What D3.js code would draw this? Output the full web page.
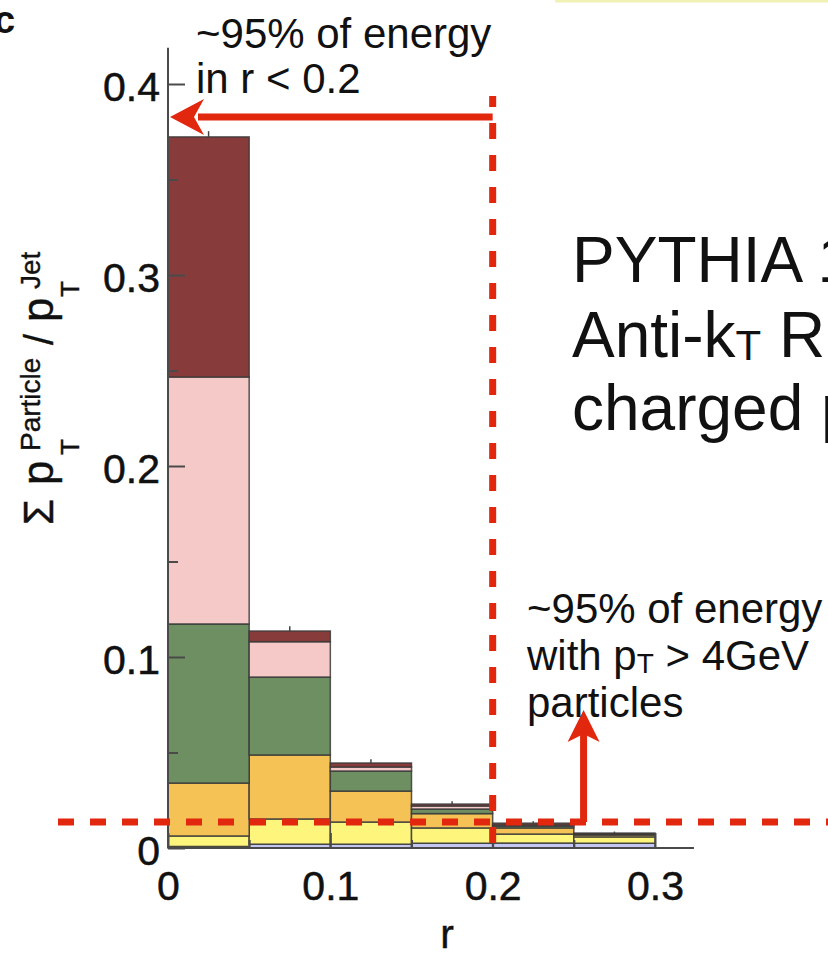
<!DOCTYPE html>
<html>
<head>
<meta charset="utf-8">
<script src="https://cdn.jsdelivr.net/npm/d3@7"></script>
<style>
  body { margin: 0; background: #fff; }
  svg { display: block; font-family: "Liberation Sans", Arial, sans-serif; }
</style>
</head>
<body>
<div id="chart"></div>
<script>
// bin edges in r and the stacked contributions (bottom to top)
const binEdges = [0, 0.05, 0.1, 0.15, 0.2, 0.25, 0.3];
const seriesKeys = ["blue", "yellow", "orange", "green", "pink", "red"];
const blueVals = [0.0008, 0.002, 0.002, 0.0025, 0.0026, 0.0025];
const yellowVals = [0.0055, 0.0132, 0.0116, 0.008, 0.0047, 0.0033];
const orangeVals = [0.0277, 0.0335, 0.0162, 0.0075, 0.0032, 0.001];
const greenVals = [0.0833, 0.0408, 0.0105, 0.0024, 0.001, 0.0005];
const pinkVals = [0.1293, 0.0185, 0.0021, 0.0016, 0.0005, 0.0002];
const redVals = [0.1257, 0.0056, 0.0021, 0.001, 0.001, 0.0003];
const errVals = [0.003, 0.0025, 0.002, 0.0015, 0.001, 0.0008];
const yTicks = [0, 0.1, 0.2, 0.3, 0.4];
const yMinor = [0.05, 0.15, 0.25, 0.35];
const xTicks = [0, 0.1, 0.2, 0.3];
const xMinor = [0.05, 0.15, 0.25];
const yTickLabels = ["0", "0.1", "0.2", "0.3", "0.4"];
const xTickLabels = ["0", "0.1", "0.2", "0.3"];

const colors = {
  blue: "#c5c7f3",
  yellow: "#fdf57c",
  orange: "#f5c256",
  green: "#6d8f61",
  pink: "#f6c9c9",
  red: "#873b3a"
};
const annRed = "#e2270f";

const W = 828, H = 954;
const svg = d3.select("#chart").append("svg")
  .attr("width", W).attr("height", H);

const x = d3.scaleLinear().domain([0, 0.3]).range([168, 655]);
const y = d3.scaleLinear().domain([0, 0.4]).range([848, 84]);

// faint band at the top (from the slide behind)
svg.append("rect").attr("x", 555).attr("y", 0).attr("width", W - 555).attr("height", 2.5)
  .attr("fill", "#eff2b4");

// rows for the stack
const rows = binEdges.slice(0, -1).map((lo, i) => ({
  lo: lo, hi: binEdges[i + 1],
  blue: blueVals[i], yellow: yellowVals[i], orange: orangeVals[i],
  green: greenVals[i], pink: pinkVals[i], red: redVals[i],
  err: errVals[i]
}));
const stacked = d3.stack().keys(seriesKeys)(rows);

const bars = svg.append("g");
stacked.forEach(layer => {
  bars.append("g")
    .selectAll("rect")
    .data(layer)
    .join("rect")
    .attr("x", d => x(d.data.lo))
    .attr("y", d => y(d[1]))
    .attr("width", d => x(d.data.hi) - x(d.data.lo))
    .attr("height", d => y(d[0]) - y(d[1]))
    .attr("fill", colors[layer.key])
    .attr("stroke", "#3a3a3a")
    .attr("stroke-opacity", 0.85)
    .attr("stroke-width", 1.5);
});

// small error bars on top of each stack
const topLayer = stacked[stacked.length - 1];
svg.append("g").selectAll("line")
  .data(topLayer)
  .join("line")
  .attr("x1", d => x((d.data.lo + d.data.hi) / 2))
  .attr("x2", d => x((d.data.lo + d.data.hi) / 2))
  .attr("y1", d => y(d[1]))
  .attr("y2", d => y(d[1] + d.data.err))
  .attr("stroke", "#444")
  .attr("stroke-width", 1.5);

// axes
const axisColor = "#4a4a4a";
const xAxis = svg.append("g").attr("transform", `translate(0,${y(0)})`)
  .call(d3.axisBottom(x).tickValues(xTicks).tickFormat((d, i) => xTickLabels[i])
    .tickSize(-15).tickSizeOuter(0).tickPadding(23));
svg.append("g").attr("transform", `translate(0,${y(0)})`)
  .call(d3.axisBottom(x).tickValues(xMinor).tickFormat("").tickSize(-8).tickSizeOuter(0));
const yAxis = svg.append("g").attr("transform", `translate(${x(0)},0)`)
  .call(d3.axisLeft(y).tickValues(yTicks).tickFormat((d, i) => yTickLabels[i])
    .tickSize(-17).tickSizeOuter(0).tickPadding(8));
svg.append("g").attr("transform", `translate(${x(0)},0)`)
  .call(d3.axisLeft(y).tickValues(yMinor).tickFormat("").tickSize(-10).tickSizeOuter(0));

svg.selectAll(".domain").remove();
svg.selectAll(".tick line").attr("stroke", axisColor).attr("stroke-width", 2);
svg.selectAll(".tick text").attr("font-size", 41).attr("fill", "#111")
  .attr("stroke", "#111").attr("stroke-width", 0.5)
  .attr("font-family", "'Liberation Sans', Arial, sans-serif");
yAxis.selectAll(".tick text").attr("dy", "0.4em");

// axis lines run a bit past the last tick
svg.append("line").attr("x1", x(0)).attr("x2", x(0.324))
  .attr("y1", y(0)).attr("y2", y(0))
  .attr("stroke", axisColor).attr("stroke-width", 2);
svg.append("line").attr("x1", x(0)).attr("x2", x(0))
  .attr("y1", y(0)).attr("y2", y(0.419))
  .attr("stroke", axisColor).attr("stroke-width", 2);

// x title
svg.append("text").attr("x", 447).attr("y", 948).attr("text-anchor", "middle")
  .attr("font-size", 41).attr("fill", "#111").attr("stroke", "#111").attr("stroke-width", 0.4)
  .text("r");

// y title, rotated, built from pieces
const yl = svg.append("g").attr("transform", "translate(53,525) rotate(-90)")
  .attr("fill", "#111").attr("stroke", "#111").attr("stroke-width", 0.4);
const ylParts = [
  { t: "Σ", u: 0, v: 0, fs: 42 },
  { t: "p", u: 40, v: 0, fs: 44 },
  { t: "Particle", u: 74, v: -13, fs: 28 },
  { t: "T", u: 70, v: 26, fs: 26 },
  { t: "/", u: 180, v: 0, fs: 40 },
  { t: "p", u: 203, v: 0, fs: 44 },
  { t: "Jet", u: 236, v: -13, fs: 28 },
  { t: "T", u: 228, v: 26, fs: 26 }
];
yl.selectAll("text").data(ylParts).join("text")
  .attr("x", d => d.u).attr("y", d => d.v)
  .attr("font-size", d => d.fs).text(d => d.t);

// panel letter
svg.append("text").attr("x", -6).attr("y", 33).attr("font-size", 38)
  .attr("font-weight", "bold").attr("fill", "#111").text("c");

// red annotations
const ann = svg.append("g");
const arrowY = y(0.3827);
ann.append("line").attr("x1", x(0.2)).attr("x2", x(0) + 30)
  .attr("y1", arrowY).attr("y2", arrowY)
  .attr("stroke", annRed).attr("stroke-width", 7);
const tipX = x(0) + 2;
ann.append("path")
  .attr("d", `M${tipX},${arrowY} L${tipX + 34},${arrowY - 18} L${tipX + 24},${arrowY} L${tipX + 34},${arrowY + 18} Z`)
  .attr("fill", annRed);

// vertical dashed line at r = 0.2
ann.append("line").attr("x1", x(0.2)).attr("x2", x(0.2))
  .attr("y1", 96).attr("y2", 846)
  .attr("stroke", annRed).attr("stroke-width", 7)
  .attr("stroke-dasharray", "16 16").attr("stroke-dashoffset", 5);

// horizontal dashed threshold line
const thrY = y(0.0136);
ann.append("line").attr("x1", 58).attr("x2", W)
  .attr("y1", thrY).attr("y2", thrY)
  .attr("stroke", annRed).attr("stroke-width", 7)
  .attr("stroke-dasharray", "16 16");

// up arrow
const upX = x(0.256);
const upTip = y(0.0723);
ann.append("line").attr("x1", upX).attr("x2", upX)
  .attr("y1", thrY).attr("y2", upTip + 24)
  .attr("stroke", annRed).attr("stroke-width", 7);
ann.append("path")
  .attr("d", `M${upX},${upTip} L${upX + 16},${upTip + 32} L${upX},${upTip + 24} L${upX - 16},${upTip + 32} Z`)
  .attr("fill", annRed);

// text annotations
const txt = svg.append("g").attr("fill", "#111");
txt.append("text").attr("x", 196).attr("y", 48).attr("font-size", 42).text("~95% of energy");
txt.append("text").attr("x", 196).attr("y", 93).attr("font-size", 42).text("in r < 0.2");

txt.append("text").attr("x", 527).attr("y", 623).attr("font-size", 42).text("~95% of energy");
const l2 = txt.append("text").attr("x", 527).attr("y", 670).attr("font-size", 42);
l2.append("tspan").text("with p");
l2.append("tspan").attr("font-size", 28).attr("dy", 3).text("T");
l2.append("tspan").attr("dy", -3).text(" > 4GeV");
txt.append("text").attr("x", 527).attr("y", 717).attr("font-size", 42).text("particles");

txt.append("text").attr("x", 572).attr("y", 282).attr("font-size", 64).text("PYTHIA 1");
const b2 = txt.append("text").attr("x", 572).attr("y", 357).attr("font-size", 64);
b2.append("tspan").text("Anti-k");
b2.append("tspan").attr("font-size", 42).attr("dy", 3).text("T");
b2.append("tspan").attr("dy", -3).text(" R=");
txt.append("text").attr("x", 572).attr("y", 430).attr("font-size", 64).text("charged p");
</script>
</body>
</html>
